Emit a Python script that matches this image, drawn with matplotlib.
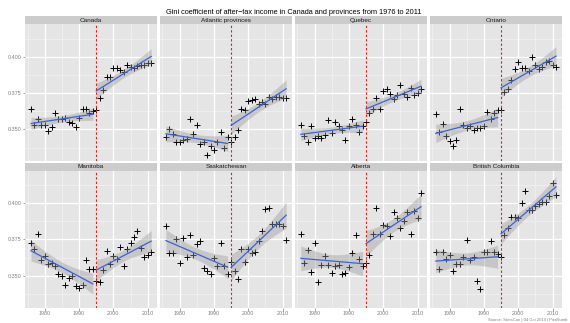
import numpy as np
import matplotlib
matplotlib.use("Agg")
import matplotlib.pyplot as plt

plt.rcParams['font.family'] = ['Liberation Sans', 'DejaVu Sans']

years = list(range(1976, 2012))
break_year = 1995

regions = ["Canada", "Atlantic provinces", "Quebec", "Ontario",
           "Manitoba", "Saskatchewan", "Alberta", "British Columbia"]

canada = [0.3643, 0.3528, 0.3574, 0.3533, 0.3533, 0.3487, 0.3515, 0.3613, 0.3572, 0.3574,
          0.3581, 0.3554, 0.3544, 0.3515, 0.3579, 0.3643, 0.3643, 0.3616, 0.3625, 0.3632,
          0.3719, 0.3774, 0.3862, 0.3862, 0.3920, 0.3920, 0.3908, 0.3892, 0.3942, 0.3931,
          0.3924, 0.3940, 0.3945, 0.3947, 0.3954, 0.3954]
atlantic = [0.3448, 0.3501, 0.3471, 0.3413, 0.3413, 0.3425, 0.3436, 0.3574, 0.3471, 0.3533,
            0.3402, 0.3413, 0.3326, 0.3383, 0.3356, 0.3413, 0.3482, 0.3374, 0.3448, 0.3413,
            0.3448, 0.3499, 0.3643, 0.3636, 0.3694, 0.3701, 0.3710, 0.3678, 0.3689, 0.3678,
            0.3724, 0.3712, 0.3724, 0.3724, 0.3719, 0.3719]
quebec = [0.3533, 0.3453, 0.3413, 0.3522, 0.3443, 0.3453, 0.3443, 0.3464, 0.3563, 0.3476,
          0.3551, 0.3522, 0.3494, 0.3425, 0.3522, 0.3574, 0.3528, 0.3482, 0.3522, 0.3551,
          0.3614, 0.3643, 0.3719, 0.3643, 0.3765, 0.3781, 0.3742, 0.3708, 0.3735, 0.3804,
          0.3742, 0.3724, 0.3786, 0.3735, 0.3752, 0.3781]
ontario = [0.3609, 0.3483, 0.3540, 0.3453, 0.3420, 0.3383, 0.3430, 0.3643, 0.3533, 0.3512,
           0.3522, 0.3494, 0.3512, 0.3512, 0.3522, 0.3620, 0.3574, 0.3614, 0.3632, 0.3632,
           0.3758, 0.3775, 0.3839, 0.3913, 0.3961, 0.3924, 0.3924, 0.3901, 0.4000, 0.3942,
           0.3913, 0.3931, 0.3965, 0.3970, 0.3947, 0.3931]
manitoba = [0.3728, 0.3686, 0.3786, 0.3612, 0.3635, 0.3581, 0.3588, 0.3570, 0.3512, 0.3495,
            0.3437, 0.3488, 0.3500, 0.3430, 0.3418, 0.3437, 0.3612, 0.3546, 0.3546, 0.3465,
            0.3458, 0.3539, 0.3670, 0.3581, 0.3639, 0.3616, 0.3698, 0.3570, 0.3686, 0.3728,
            0.3767, 0.3809, 0.3693, 0.3628, 0.3646, 0.3667]
saskatchewan = [0.3842, 0.3658, 0.3658, 0.3756, 0.3588, 0.3760, 0.3628, 0.3779, 0.3646, 0.3721,
                0.3737, 0.3551, 0.3535, 0.3509, 0.3621, 0.3570, 0.3728, 0.3570, 0.3509, 0.3593,
                0.3535, 0.3477, 0.3686, 0.3598, 0.3686, 0.3658, 0.3667, 0.3737, 0.3807, 0.3960,
                0.3970, 0.3860, 0.3860, 0.3860, 0.3842, 0.3744]
alberta = [0.3786, 0.3588, 0.3679, 0.3528, 0.3728, 0.3458, 0.3577, 0.3635, 0.3577, 0.3519,
           0.3570, 0.3577, 0.3512, 0.3519, 0.3558, 0.3658, 0.3779, 0.3616, 0.3570, 0.3588,
           0.3646, 0.3791, 0.3965, 0.3786, 0.3849, 0.3842, 0.3772, 0.3942, 0.3900, 0.3830,
           0.3879, 0.3937, 0.3786, 0.3947, 0.3900, 0.4070]
british_columbia = [0.3667, 0.3546, 0.3667, 0.3616, 0.3640, 0.3535, 0.3581, 0.3581, 0.3628, 0.3749,
                    0.3612, 0.3628, 0.3465, 0.3407, 0.3667, 0.3667, 0.3737, 0.3663, 0.3651, 0.3628,
                    0.3779, 0.3830, 0.3902, 0.3907, 0.3900, 0.4000, 0.4086, 0.3953, 0.3953, 0.3984,
                    0.3993, 0.4005, 0.4005, 0.4047, 0.4140, 0.4054]

series = [canada, atlantic, quebec, ontario, manitoba, saskatchewan, alberta, british_columbia]

x_ticks = [1980, 1990, 2000, 2010]
y_ticks = [0.350, 0.375, 0.400]
y_tick_labels = ["0.350", "0.375", "0.400"]

title = "Gini coefficient of after\u2212tax income in Canada and provinces from 1976 to 2011"
source = "Source: StatsCan | 04 Oct 2014 | PitaNumb"

T_VAL = {15: 2.1314, 16: 2.1199, 17: 2.1098, 18: 2.1009}

W, H = 570, 323
fig = plt.figure(figsize=(W / 100, H / 100), dpi=100)
fig.patch.set_facecolor("white")

panel_left = [25.0, 159.9, 294.8, 429.8]
panel_w = 132.2
row_top = [24.3, 170.7]
panel_h = 137.0
strip_h = 7.9

xlim = (1974.25, 2012.75)
ylim = (0.328, 0.4224)

PANEL_BG = "#E5E5E5"
STRIP_BG = "#CCCCCC"
MINOR = "#F2F2F2"
TICK_COL = "#7F7F7F"


def add_fit(ax, xs, ys):
    xs = np.asarray(xs, float)
    ys = np.asarray(ys, float)
    n = len(xs)
    b, a = np.polyfit(xs, ys, 1)
    resid = ys - (a + b * xs)
    s = np.sqrt(np.sum(resid ** 2) / (n - 2))
    xbar = xs.mean()
    sxx = np.sum((xs - xbar) ** 2)
    xg = np.linspace(xs.min(), xs.max(), 80)
    yg = a + b * xg
    se = s * np.sqrt(1.0 / n + (xg - xbar) ** 2 / sxx)
    t = T_VAL.get(n - 2, 2.1)
    ax.fill_between(xg, yg - t * se, yg + t * se, color="#999999", alpha=0.4,
                    linewidth=0, zorder=3)
    ax.plot(xg, yg, color="#3B62D9", linewidth=0.9, zorder=4)


for i, (name, vals) in enumerate(zip(regions, series)):
    r, c = divmod(i, 4)
    x0 = panel_left[c]
    y_top = row_top[r]
    ax = fig.add_axes([x0 / W, 1 - (y_top + panel_h) / H, panel_w / W, panel_h / H])
    ax.set_facecolor(PANEL_BG)
    for sp in ax.spines.values():
        sp.set_visible(False)
    ax.set_xlim(*xlim)
    ax.set_ylim(*ylim)

    # grid
    for xm in [1975, 1985, 1995, 2005]:
        ax.axvline(xm, color=MINOR, linewidth=0.5, zorder=0.5)
    for ym in [0.3375, 0.3625, 0.3875, 0.4125]:
        ax.axhline(ym, color=MINOR, linewidth=0.5, zorder=0.5)
    for xm in x_ticks:
        ax.axvline(xm, color="white", linewidth=0.9, zorder=0.6)
    for ym in y_ticks:
        ax.axhline(ym, color="white", linewidth=0.9, zorder=0.6)

    yrs = np.array(years)
    v = np.array(vals)
    ax.plot(yrs, v, linestyle="none", marker="+", markersize=4.0,
            markeredgewidth=0.7, color="black", zorder=2)

    m1 = yrs < break_year
    m2 = yrs >= break_year
    add_fit(ax, yrs[m1], v[m1])
    add_fit(ax, yrs[m2], v[m2])

    ax.axvline(break_year, color="#E0231C", linewidth=0.8, linestyle=(0, (2.2, 1.8)), zorder=5)

    ax.set_xticks(x_ticks)
    ax.set_yticks(y_ticks)
    ax.tick_params(axis="both", length=1.8, width=0.5, color=TICK_COL,
                   labelsize=3.9, labelcolor=TICK_COL, pad=0.8)
    if c == 0:
        ax.set_yticklabels(y_tick_labels)
    else:
        ax.tick_params(axis="y", left=False, labelleft=False)
    if r == 1:
        ax.set_xticklabels([str(t) for t in x_ticks])
    else:
        ax.tick_params(axis="x", bottom=False, labelbottom=False)

    # strip
    sax = fig.add_axes([x0 / W, 1 - y_top / H, panel_w / W, strip_h / H])
    sax.set_facecolor(STRIP_BG)
    for sp in sax.spines.values():
        sp.set_visible(False)
    sax.set_xticks([])
    sax.set_yticks([])
    sax.text(0.5, 0.5, name, ha="center", va="center", fontsize=4.6,
             color="#1A1A1A", transform=sax.transAxes)

fig.text(293.5 / W, 1 - 12.6 / H, title, ha="center", va="center", fontsize=5.3, color="black")
fig.text(567 / W, 1 - 319.6 / H, source, ha="right", va="center", fontsize=3.0, color=TICK_COL)

fig.savefig("out.png", dpi=100, facecolor="white")
